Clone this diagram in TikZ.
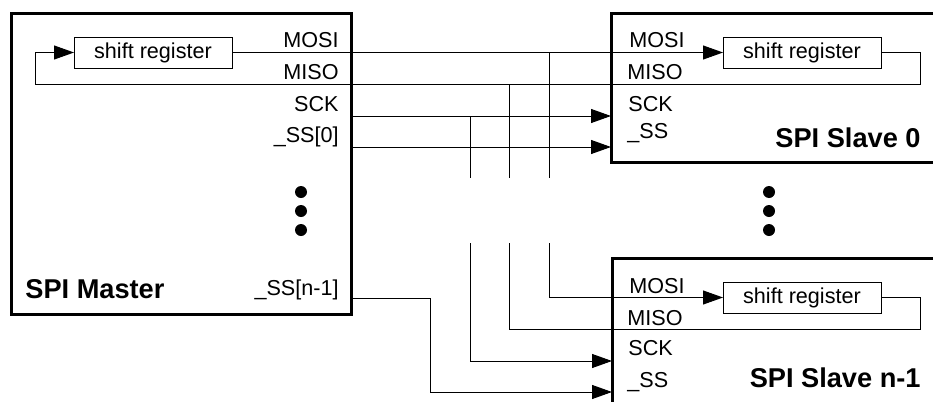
\documentclass[tikz,border=0pt]{standalone}
\usepackage{fontspec}
\setmainfont{Liberation Sans}
\usetikzlibrary{arrows.meta,positioning,calc}

\begin{document}
\begin{tikzpicture}[
  x=0.5pt,y=-0.5pt,
  unit/.style={draw,line width=1.5pt,anchor=north west,inner sep=0pt,outer sep=0pt,minimum width=170pt},
  shreg/.style={draw,line width=0.5pt,anchor=north west,inner sep=0pt,outer sep=0pt,
                minimum width=79pt,minimum height=15.5pt,font=\fontsize{10.8}{12}\selectfont},
  pin/.style={inner sep=0pt,font=\fontsize{10.8}{12}\selectfont},
  title/.style={inner sep=0pt,font=\fontsize{13.6}{15}\selectfont\bfseries},
  wire/.style={line width=0.5pt},
  arr/.style={wire,-{Triangle[length=10pt,width=7pt]}},
  dot/.style={circle,fill,inner sep=0pt,minimum size=6pt}
]
\useasboundingbox (0,0) rectangle (933,402);
\clip (0,0) rectangle (933,402);
\node[unit,minimum height=150.5pt] (master) at (11,13) {};
\node[unit,minimum height=74.5pt] (slave0) at (611,13) {};
\node[unit,minimum height=80pt] (slaveN) at (612,258) {};
\node[shreg] (srM) at (74,37) {shift register};
\node[shreg] (srA) at (723,37) {shift register};
\node[shreg] (srB) at (723,282) {shift register};
\node[pin,anchor=base east] (mMosi) at (339,47) {MOSI};
\node[pin,anchor=base east] (mMiso) at (339,79) {MISO};
\node[pin,anchor=base east] (mSck) at (339,111) {SCK};
\node[pin,anchor=base east] (mSs0) at (339,142) {\_SS[0]};
\node[pin,anchor=base east] (mSsn) at (339,295) {\_SS[n-1]};
\node[title,anchor=base west] (mTitle) at (25,298) {SPI Master};
\node[pin,anchor=base west] (aMosi) at (629,47) {MOSI};
\node[pin,anchor=base west] (aMiso) at (627,79) {MISO};
\node[pin,anchor=base west] (aSck) at (628,111) {SCK};
\node[pin,anchor=base west] (aSs) at (627,138) {\_SS};
\node[title,anchor=base east] (aTitle) at (921,147) {SPI Slave 0};
\node[pin,anchor=base west] (bMosi) at (629,293) {MOSI};
\node[pin,anchor=base west] (bMiso) at (627,325) {MISO};
\node[pin,anchor=base west] (bSck) at (628,355) {SCK};
\node[pin,anchor=base west] (bSs) at (627,387) {\_SS};
\node[title,anchor=base east] (bTitle) at (921,387) {SPI Slave n-1};
\foreach \y in {192,211,230} {
  \node[dot] at (301,\y) {};
  \node[dot] at (769,\y) {};
}
\coordinate (sck) at (351,116);
\coordinate (ss0) at (351,147);
\coordinate (ssn) at (351,298);
\draw[arr] (srM.east) -- (srA.west);
\draw[arr] (srA.east) -- ++(39,0) |- (35,84) |- (srM.west);
\draw[arr] (sck) -- (sck -| slave0.west);
\draw[arr] (ss0) -- (ss0 -| slave0.west);
\foreach \x/\y in {549/52.5,509/84,470/116}
  \draw[wire] (\x,\y) -- (\x,178);
\draw[arr] (549,243) |- (srB.west);
\draw[wire] (srB.east) -- ++(39,0) |- (509,329) -- (509,243);
\draw[arr] (470,243) |- (slaveN.west |- 0,361);
\draw[arr] (ssn) -| (430,392) -- (slaveN.west |- 0,392);
\end{tikzpicture}
\end{document}
